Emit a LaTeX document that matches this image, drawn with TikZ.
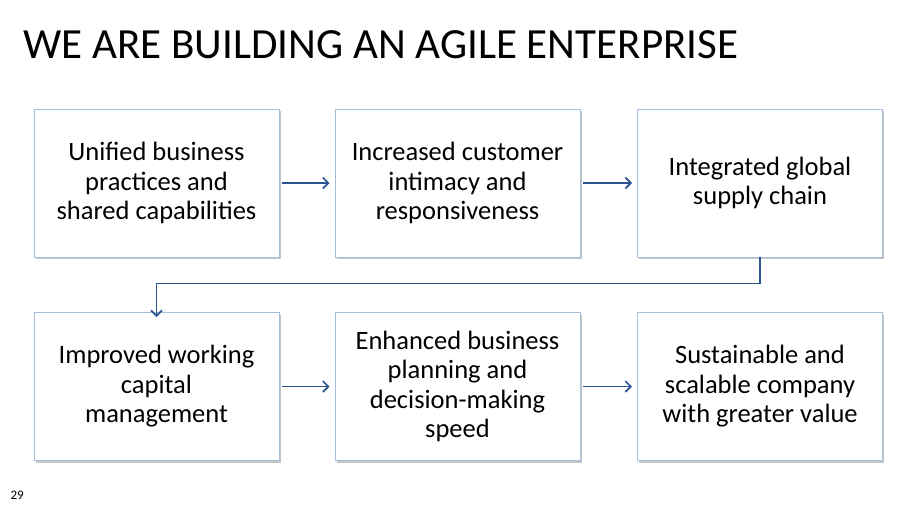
\documentclass[tikz,border=0pt]{standalone}
\usepackage{fontspec}
\setmainfont{Carlito}
\usetikzlibrary{shadows,arrows.meta}
\definecolor{boxline}{HTML}{A7BFDE}
\definecolor{arrowc}{HTML}{2C5590}
\begin{document}
\begin{tikzpicture}[x=1pt,y=-1pt,
  stepbox/.style={draw=boxline, line width=1pt, fill=white, minimum width=245pt, minimum height=148pt,
    align=center, font=\fontsize{26.5}{29.5}\selectfont,
    drop shadow={shadow xshift=1.5pt, shadow yshift=-2pt, fill=black!45, opacity=0.5}},
  conn/.style={draw=arrowc, line width=1.6pt, -{Straight Barb[length=5.5pt,width=11pt,line width=1.6pt]}}]
\useasboundingbox (0,0) rectangle (911,512);
\node[anchor=west, font=\fontsize{43}{50}\selectfont] (title) at (20,45) {WE ARE BUILDING AN AGILE ENTERPRISE};
\node[stepbox] (b1) at (156.5,183) {Unified business\\practices and\\shared capabilities};
\node[stepbox] (b2) at (457.5,183) {Increased customer\\intimacy and\\responsiveness};
\node[stepbox] (b3) at (760,183) {Integrated global\\supply chain};
\node[stepbox] (b4) at (156.5,386.5) {Improved working\\capital\\management};
\node[stepbox] (b5) at (457.5,386.5) {Enhanced business\\planning and\\decision-making\\speed};
\node[stepbox] (b6) at (760,386.5) {Sustainable and\\scalable company\\with greater value};
\node[anchor=west, font=\fontsize{13}{15}\selectfont] (pg) at (7,495) {29};
\draw[conn] ([xshift=2pt]b1.east) -- ([xshift=-5pt]b2.west);
\draw[conn] ([xshift=2pt]b2.east) -- ([xshift=-5pt]b3.west);
\draw[conn] ([xshift=2pt]b4.east) -- ([xshift=-5pt]b5.west);
\draw[conn] ([xshift=2pt]b5.east) -- ([xshift=-5pt]b6.west);
\draw[conn] ([yshift=1pt]b3.south) -- ++(0,27) -| ([yshift=-5pt]b4.north);
\end{tikzpicture}
\end{document}
